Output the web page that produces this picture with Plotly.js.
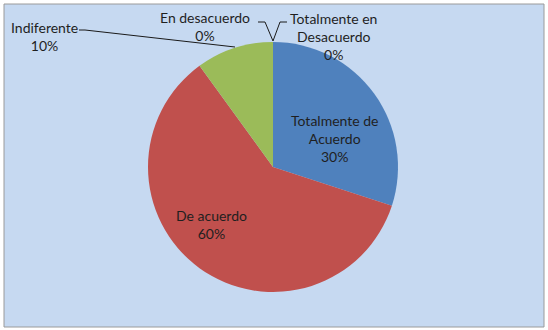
<!DOCTYPE html>
<html>
<head>
<meta charset="utf-8">
<script src="https://cdn.plot.ly/plotly-3.0.1.min.js"></script>
<style>
  html, body { margin: 0; padding: 0; background: #ffffff; overflow: hidden; }
  #chart { width: 548px; height: 330px; }
</style>
</head>
<body>
<div id="chart"></div>
<script>
// Data
const categories = ['Totalmente de Acuerdo', 'De acuerdo', 'Indiferente', 'En desacuerdo', 'Totalmente en Desacuerdo'];
const displayLabels = ['Totalmente de<br>Acuerdo', 'De acuerdo', 'Indiferente', 'En desacuerdo', 'Totalmente en<br>Desacuerdo'];
const values = [30, 60, 10, 0, 0];
const colors = ['#4F81BD', '#C0504D', '#9BBB59', '#8064A2', '#4BACC6'];

const W = 548, H = 330;
const px = x => x / W;
const py = y => 1 - y / H;

const total = values.reduce((a, b) => a + b, 0);
const pctText = values.map(v => Math.round(v / total * 100) + '%');

const fontFam = 'Lato, "Open Sans", sans-serif';
const txtColor = '#1f1f1f';
const fontSize = 14;

const trace = {
  type: 'pie',
  labels: categories,
  values: values,
  textinfo: 'none',
  sort: false,
  direction: 'clockwise',
  rotation: 0,
  marker: { colors: colors, line: { width: 0 } },
  domain: { x: [px(148), px(398)], y: [py(292), py(42)] },
  hoverinfo: 'none',
  showlegend: false
};

// Data label positions (layout only)
const labelPos = [
  { x: 334, y: 139 },
  { x: 211, y: 225 },
  { x: 44, y: 37 },
  { x: 205, y: 27 },
  { x: 333, y: 37 }
];
const annotations = labelPos.map((o, i) => ({
  xref: 'paper', yref: 'paper',
  x: px(o.x), y: py(o.y),
  xanchor: 'center', yanchor: 'middle',
  text: displayLabels[i] + '<br>' + pctText[i],
  showarrow: false,
  font: { family: fontFam, size: fontSize, color: txtColor }
}));

function path(points) {
  return points.map((p, k) => (k ? 'L ' : 'M ') + px(p[0]) + ',' + py(p[1])).join(' ');
}

const lineStyle = { color: '#1a1a1a', width: 1 };
const shapes = [
  // chart area background
  { type: 'rect', xref: 'paper', yref: 'paper', layer: 'below',
    x0: px(4), x1: px(544), y0: py(327), y1: py(4),
    fillcolor: '#C6D9F1', line: { color: '#9a9a9a', width: 1 } },
  // leader lines
  { type: 'path', xref: 'paper', yref: 'paper', path: path([[79, 30], [85, 30], [235, 47]]), line: lineStyle },
  { type: 'path', xref: 'paper', yref: 'paper', path: path([[258, 22], [265, 22], [273, 41], [280, 22], [287, 22]]), line: lineStyle }
];

const layout = {
  width: W, height: H,
  margin: { l: 0, r: 0, t: 0, b: 0 },
  paper_bgcolor: '#ffffff',
  plot_bgcolor: 'rgba(0,0,0,0)',
  font: { family: fontFam, size: fontSize, color: txtColor },
  shapes: shapes,
  annotations: annotations,
  showlegend: false
};

Plotly.newPlot('chart', [trace], layout, { displayModeBar: false, staticPlot: true });
</script>
</body>
</html>
